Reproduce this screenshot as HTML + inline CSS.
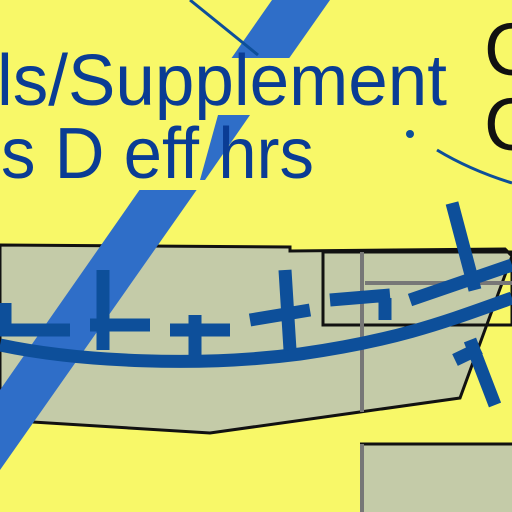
<!DOCTYPE html>
<html><head><meta charset="utf-8"><style>html,body{margin:0;padding:0;background:#f8f868}svg{display:block}</style></head>
<body>
<svg width="512" height="512" viewBox="0 0 512 512">
<rect width="512" height="512" fill="#f8f868"/>
<polygon points="0,245 290,247 290,251 505,249 512,256 460,398 360,412 210,433 0,420" fill="#c4cba8" stroke="#111" stroke-width="3"/>
<polygon points="272,0 330,0 0,470 0,390" fill="#2f6ec8"/>
<polygon points="120,58 300,58 300,190 120,190" fill="#f8f868"/>
<polygon points="218,115 250,115 205,180 200,180" fill="#2f6ec8"/>
<rect x="323" y="252" width="189" height="73" fill="none" stroke="#111" stroke-width="3"/>
<line x1="362" y1="252" x2="362" y2="412" stroke="#777" stroke-width="4"/>
<line x1="365" y1="283" x2="512" y2="283" stroke="#777" stroke-width="4"/>
<g fill="none" stroke="#0d4f9a" stroke-width="13">
<path d="M0,345 C80,362 200,367 300,354 C400,340 450,320 512,298"/>
<path d="M0,330 L70,330 M5,303 L5,330"/>
<path d="M90,325 L150,325 M103,270 L103,350"/>
<path d="M170,330 L230,330 M195,315 L195,355"/>
<path d="M250,320 L310,310 M285,270 L290,350"/>
<path d="M330,300 L390,295 M385,298 L385,320"/>
<path d="M410,300 L512,265 M452,203 L475,290"/>
<path d="M470,340 L495,405 M455,360 L480,348"/>
</g>
<rect x="362" y="443" width="150" height="69" fill="#c4cba8"/>
<line x1="360" y1="444" x2="512" y2="444" stroke="#111" stroke-width="3"/>
<line x1="362" y1="444" x2="362" y2="512" stroke="#777" stroke-width="4"/>
<line x1="190" y1="0" x2="258" y2="55" stroke="#0d4f9a" stroke-width="3"/>
<path d="M437,150 Q470,170 512,183" fill="none" stroke="#0d4f9a" stroke-width="3"/>
<circle cx="410" cy="134" r="4" fill="#0d4f9a"/>
<g font-family="Liberation Sans, sans-serif" fill="#0a3c94" font-size="72">
<text x="-3" y="105" textLength="450" lengthAdjust="spacingAndGlyphs">ls/Supplement</text>
<text x="1" y="178" textLength="313" lengthAdjust="spacingAndGlyphs">s D eff hrs</text>
</g>
<g font-family="Liberation Sans, sans-serif" fill="#111" font-size="74">
<text x="484" y="75">C</text>
<text x="484" y="150">C</text>
</g>
</svg>
</body></html>
